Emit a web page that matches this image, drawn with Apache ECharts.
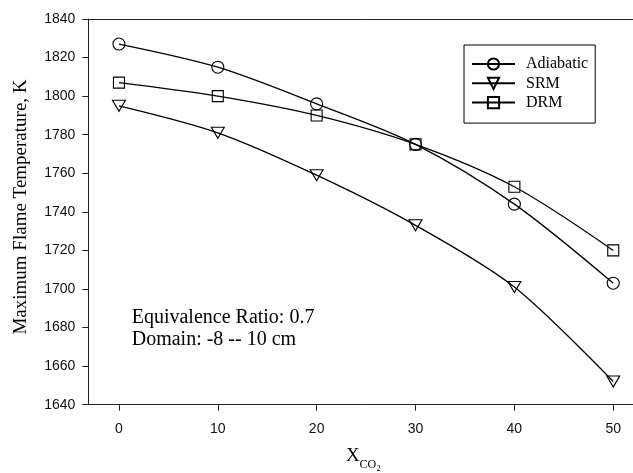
<!DOCTYPE html>
<html>
<head>
<meta charset="utf-8">
<script src="https://cdn.jsdelivr.net/npm/echarts@6/dist/echarts.min.js"></script>
<style>
html,body{margin:0;padding:0;background:#fff;}
#chart{width:633px;height:473px;}
</style>
</head>
<body>
<div id="chart"></div>
<script>
// ---- data ----
const xValues = [0, 10, 20, 30, 40, 50];
const adiabatic = [1827, 1815, 1796, 1775, 1744, 1703];
const srm = [1795, 1781, 1759, 1733, 1701, 1652];
const drm = [1807, 1800, 1790, 1775, 1753, 1720];
const xTickValues = [0, 10, 20, 30, 40, 50];
const yMin = 1640, yMax = 1840, yStep = 20;
const seriesNames = ['Adiabatic', 'SRM', 'DRM'];
const yTitle = 'Maximum Flame Temperature, K';
const note1 = 'Equivalence Ratio: 0.7';
const note2 = 'Domain: -8 -- 10 cm';

const chart = echarts.init(document.getElementById('chart'), null, {renderer: 'canvas'});
const serif = '"Liberation Serif", "Times New Roman", serif';
const sans = '"Liberation Sans", Arial, sans-serif';

function pairs(vals) { return xValues.map((x, i) => [x, vals[i]]); }

function lineSeries(name, vals, symbol, size, rotate) {
  return {
    name: name,
    type: 'line',
    data: pairs(vals),
    smooth: 0.3,
    symbol: symbol,
    symbolSize: size,
    symbolRotate: rotate || 0,
    showAllSymbol: true,
    lineStyle: {color: '#000', width: 1.3},
    itemStyle: {color: 'rgba(255,255,255,0)', borderColor: '#000', borderWidth: 1.1},
    emphasis: {disabled: true},
    animation: false,
    z: 3
  };
}

const option = {
  backgroundColor: '#fff',
  animation: false,
  grid: {left: 88.3, top: 19, right: 0, bottom: 68.3, containLabel: false},
  xAxis: [{
    type: 'value',
    min: -3.1, max: 52,
    axisLine: {show: true, onZero: false, lineStyle: {color: '#222', width: 1}},
    axisTick: {show: true, inside: false, length: 6, customValues: xTickValues, lineStyle: {color: '#222'}},
    axisLabel: {show: true, customValues: xTickValues, margin: 17, color: '#111', fontFamily: sans, fontSize: 14},
    splitLine: {show: false}
  }, {
    type: 'value',
    position: 'top',
    min: -3.1, max: 52,
    axisLine: {show: true, onZero: false, lineStyle: {color: '#222', width: 1}},
    axisTick: {show: false},
    axisLabel: {show: false},
    splitLine: {show: false}
  }],
  yAxis: {
    type: 'value',
    min: yMin, max: yMax, interval: yStep,
    axisLine: {show: true, onZero: false, lineStyle: {color: '#222', width: 1}},
    axisTick: {show: true, inside: false, length: 6, lineStyle: {color: '#222'}},
    axisLabel: {margin: 13, color: '#111', fontFamily: sans, fontSize: 14, formatter: function (v) { return String(v); }},
    splitLine: {show: false}
  },
  legend: {
    left: 464, top: 45,
    orient: 'vertical',
    data: seriesNames,
    itemWidth: 43, itemHeight: 14,
    itemGap: 3.3,
    padding: [11, 7, 12.5, 7],
    borderColor: '#000', borderWidth: 1,
    backgroundColor: '#fff',
    selectedMode: false,
    textStyle: {color: '#000', fontFamily: serif, fontSize: 16, padding: [0, 0, 0, 6]}
  },
  series: [
    lineSeries(seriesNames[0], adiabatic, 'circle', 12),
    lineSeries(seriesNames[1], srm, 'triangle', [13, 11], 180),
    lineSeries(seriesNames[2], drm, 'rect', 11)
  ],
  graphic: [
    {type: 'text', x: 21, y: 207, rotation: Math.PI / 2,
      style: {text: yTitle, font: '19px ' + serif, fill: '#000', align: 'center', verticalAlign: 'middle'}},
    {type: 'text', x: 346, y: 456.5,
      style: {text: 'X', font: '19px ' + serif, fill: '#000', align: 'left', verticalAlign: 'middle'}},
    {type: 'text', x: 359.5, y: 465,
      style: {text: 'CO', font: '12px ' + serif, fill: '#000', align: 'left', verticalAlign: 'middle'}},
    {type: 'text', x: 376.5, y: 469,
      style: {text: '2', font: '8px ' + serif, fill: '#000', align: 'left', verticalAlign: 'middle'}},
    {type: 'text', x: 131.7, y: 317.3,
      style: {text: note1, font: '20px ' + serif, fill: '#000', align: 'left', verticalAlign: 'middle'}},
    {type: 'text', x: 131.7, y: 340,
      style: {text: note2, font: '20px ' + serif, fill: '#000', align: 'left', verticalAlign: 'middle'}}
  ]
};
chart.setOption(option);
</script>
</body>
</html>
